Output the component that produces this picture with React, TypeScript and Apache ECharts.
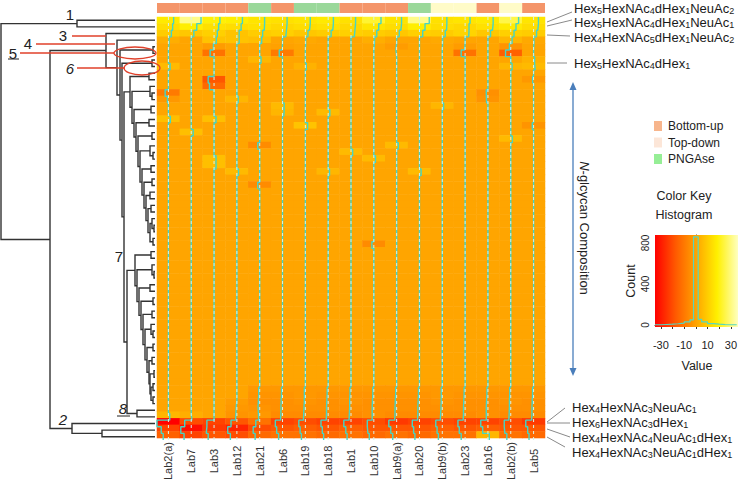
import React, { useEffect, useRef } from 'react';
import * as echarts from 'echarts';

// ---------- data ----------
const LABS = ['Lab2(a)', 'Lab7', 'Lab3', 'Lab12', 'Lab21', 'Lab6', 'Lab19', 'Lab18', 'Lab1', 'Lab10', 'Lab9(a)', 'Lab20', 'Lab9(b)', 'Lab23', 'Lab16', 'Lab2(b)', 'Lab5'];
const METHODS = ['Bottom-up', 'Top-down', 'PNGAse'];
const LAB_METHOD = ['Bottom-up', 'Bottom-up', 'Bottom-up', 'Bottom-up', 'PNGAse', 'Bottom-up', 'PNGAse', 'PNGAse', 'Bottom-up', 'Bottom-up', 'Bottom-up', 'PNGAse', 'Top-down', 'Top-down', 'Bottom-up', 'Top-down', 'Bottom-up'];

const COLOR_MIN = -35;
const COLOR_MAX = 35;

// rows = N-glycan compositions (top to bottom), columns = LABS
const HEAT: number[][] = [
  [16, 30, 18, 17, 15, 14, 15, 16, 14, 22, 15, 30, 14, 15, 16, 24, 15],
  [13, 17, 14, 13, 14, 12, 13, 14, 12, 15, 13, 17, 13, 12, 14, 16, 13],
  [9, 8, 10, 7, 9, 10, 8, 9, 10, 9, 8, 10, 9, 11, 8, 10, 9],
  [2, 0, 7, 7, 6, 0, 1, 0, 0, 2, 0, 0, 1, 0, 0, 4, 1],
  [0, 0, -2, 0, 0, -1, 0, 0, 0, 0, -2, 0, 0, -2, 0, -4, 0],
  [0, 0, -12, 0, 0, -10, 0, 0, 0, 0, 0, 0, 0, -12, 0, -16, 0],
  [0, 0, 0, 0, 4, 0, 0, 0, 0, 0, 0, 0, 0, 0, 0, 0, 3],
  [5, 0, 0, 0, 0, 0, 3, 0, 0, 0, 0, 0, 0, 0, 0, 4, 5],
  [0, 0, 0, 0, 0, 0, 0, 0, 0, 0, 0, 0, 0, 0, 0, 0, 0],
  [0, 0, -18, 0, 0, 0, 0, 0, 0, 0, 0, 0, 0, 0, 0, 0, -3],
  [0, 0, -14, 0, 0, 0, 0, 0, 0, 0, 0, 0, 0, 0, 0, 0, 0],
  [-10, 0, 0, 0, 0, 0, 0, 0, 0, 0, 0, 0, 0, 0, -5, 0, 0],
  [-3, 0, 0, 4, 0, 0, 0, 0, 0, 0, 0, 0, 0, 0, -4, 0, 0],
  [0, 0, 0, 0, 0, 5, 0, 0, 0, 0, 0, 0, 4, 0, 0, 0, 0],
  [0, 0, 0, 0, 0, 4, 0, 5, 0, 0, 0, 0, 0, 0, 0, 0, 0],
  [6, 0, 6, 0, 0, 0, 0, 0, 0, 0, 0, 0, 0, 0, 0, 0, 0],
  [0, 0, 0, 0, 0, 0, 7, 0, 0, 0, 0, 0, 0, 0, 0, 0, -4],
  [0, 6, 0, 0, 0, 0, 0, 0, 0, 0, 0, 0, 0, 0, 0, 0, 0],
  [0, 0, 0, 0, 0, 0, 0, 0, 0, 0, 0, 0, 0, 0, 0, 5, 0],
  [0, 0, 0, 0, -6, 0, 0, 0, 0, 0, 5, 0, 0, 0, 0, 0, 0],
  [0, 0, 0, 0, 0, 0, 0, 0, 5, 0, 0, 0, 0, 0, 0, 0, 0],
  [0, 0, 6, 0, 0, 0, 0, 0, 0, 5, 0, 0, 0, 0, 0, 0, 0],
  [0, 0, 6, 0, 0, 0, 0, 0, 0, 0, 0, 0, 0, 0, 0, 0, 0],
  [0, 0, 0, 5, 0, 0, 0, 4, 0, 0, 0, 5, 0, 0, 0, 0, 0],
  [0, 0, 0, 0, 0, 0, 0, 0, 0, 0, 0, 0, 0, 0, 0, 0, 0],
  [0, 0, 0, 0, -6, 0, 0, 0, 0, 0, 0, 0, 0, 0, 0, 0, 0],
  [0, 0, 0, 0, 0, 0, 0, 0, 0, 0, 0, 0, 0, 0, 0, 0, 0],
  [0, 0, 0, 0, 0, 0, 0, 0, 0, 0, 0, 0, 0, 0, 0, 0, 0],
  [0, 0, 0, 0, 0, 0, 0, 0, 0, 0, 0, 0, 0, 0, 0, 0, 0],
  [0, 0, 0, 0, 0, 0, 0, 0, 0, 0, 0, 0, 0, 0, 0, 0, 0],
  [0, 0, 0, 0, 0, 0, 0, 0, 0, 0, 0, 0, 0, 0, 0, 0, 0],
  [0, 0, 0, 0, 0, 0, 0, 0, 0, 0, 0, 0, 0, 0, 0, 0, 0],
  [0, 0, 0, 0, 0, 0, 0, 0, 0, 0, 0, 0, 0, 0, 0, 0, 0],
  [0, 0, 0, 0, 0, 0, 0, 0, 0, 0, 0, 0, 0, 0, 0, 0, 0],
  [0, 0, 0, 0, 0, 0, 0, 0, 0, -6, 0, 0, 0, 0, 0, 0, 0],
  [0, 0, 0, 0, 0, 0, 0, 0, 0, 0, 0, 0, 0, 0, 0, 0, 0],
  [0, 0, 0, 0, 0, 0, 0, 0, 0, 0, 0, 0, 0, 0, 0, 0, 0],
  [0, 0, 0, 0, 0, 0, 0, 0, 0, 0, 0, 0, 0, 0, 0, 0, 0],
  [0, 0, 0, 0, 0, 0, 0, 0, 0, 0, 0, 0, 0, 0, 0, 0, 0],
  [0, 0, 0, 0, 0, 0, 0, 0, 0, 0, 0, 0, 0, 0, 0, 0, 0],
  [0, 0, 0, 0, 0, 0, 0, 0, 0, 0, 0, 0, 0, 0, 0, 0, 0],
  [0, 0, 0, 0, 0, 0, 0, 0, 0, 0, 0, 0, 0, 0, 0, 0, 0],
  [0, 0, 0, 0, 0, 0, 0, 0, 0, 0, 0, 0, 0, 0, 0, 0, 0],
  [0, 0, 0, 0, 0, 0, 0, 0, 0, 0, 0, 0, 0, 0, 0, 0, 0],
  [0, 0, 0, 0, 0, 0, 0, 0, 0, 0, 0, 0, 0, 0, 0, 0, 0],
  [0, 0, 0, 0, 0, 0, 0, 0, 0, 0, 0, 0, 0, 0, 0, 0, 0],
  [0, 0, 0, 0, 0, 0, 0, 0, 0, 0, 0, 0, 0, 0, 0, 0, 0],
  [0, 0, 0, 0, 0, 0, 0, 0, 0, 0, 0, 0, 0, 0, 0, 0, 0],
  [0, 0, 0, 0, 0, 0, 0, 0, 0, 0, 0, 0, 0, 0, 0, 0, 0],
  [0, 0, 0, 0, 0, 0, 0, 0, 0, 0, 0, 0, 0, 0, 0, 0, 0],
  [0, 0, 0, 0, 0, 0, 0, 0, 0, 0, 0, 0, 0, 0, 0, 0, 0],
  [0, 0, 0, 0, 0, 0, 0, 0, 0, 0, 0, 0, 0, 0, 0, 0, 0],
  [0, 0, 0, 0, 0, 0, 0, 0, 0, 0, 0, 0, 0, 0, 0, 0, 0],
  [0, 0, 0, 0, 0, 0, 0, 0, 0, 0, 0, 0, 0, 0, 0, 0, 0],
  [0, 0, 0, 0, 0, 0, 0, 0, 0, 0, 0, 0, 0, 0, 0, 0, 0],
  [0, 0, 0, 0, 0, 0, 0, 0, 0, 0, 0, 0, 0, 0, 0, 0, 0],
  [0, 0, 0, 0, -3, -3, -3, -3, -3, -3, -3, -3, -3, -3, -3, -3, -3],
  [0, 0, 0, 0, -4, -4, -3, -4, -4, -4, -4, -4, -3, -4, -4, -4, -4],
  [0, 0, 0, -2, -5, -5, -4, -5, -4, -5, -5, -5, -4, -5, -5, -4, -5],
  [0, 0, 0, -3, -4, -5, -5, -5, -5, -5, -5, -5, -5, -5, -5, -5, -5],
  [4, 2, 0, -4, -3, -6, -6, -6, -6, -5, -6, -6, -6, -6, -5, -6, -6],
  [-35, -20, -22, -18, -12, -22, -20, -22, -22, -20, -24, -22, -20, -22, -22, -20, -24],
  [-22, -32, -24, -28, -20, -18, -16, -18, -16, -18, -18, -18, -16, -18, -16, -18, -18],
  [-16, -22, -18, -20, -14, -12, -12, -14, -12, -14, -12, -14, -12, -12, 4, -12, -14],
];

// dendrogram: node = [height, left, right], leaf = row index
const CHAIN_A_STEPS: [number, any][] = [[25, [6, 8, 9]], [23, [5, 10, [3, 11, 12]]], [21, [4, 13, 14]], [19, [6, 15, 16]], [17, [3, 17, 18]], [15, [5, 19, [2, 20, 21]]], [13, [4, 22, 23]], [11, [3, 24, 25]], [9, [5, 26, 27]], [7, [4, 28, 29]]];
const CHAIN_A_TAIL = [5, [3, 30, [1, 31, 32]], [2, 33, 34]];
const CHAIN_B_STEPS: [number, any][] = [[20, [4, 35, 36]], [18, [3, 37, [1, 38, 39]]], [16, [5, 40, 41]], [14, [2, 42, 43]], [12, [3, 44, 45]], [10, [4, 46, [2, 47, 48]]], [8, [2, 49, 50]], [6, [3, 51, 52]], [5, [1, 53, 54]]];
const CHAIN_B_TAIL = [4, [2, 55, 56], [2, 57, 58]];
const CLUSTER_1 = [78, 0, 1];
const CLUSTER_2 = [83, 61, [53, 62, 63]];
const CLUSTER_5 = [2, 4, 5];
const CLUSTER_6 = [3, 6, 7];
const CLUSTER_8 = [18, 59, 60];
const ROOT_HEIGHT = 154;
const NODE_HEIGHTS = { n3: 49, n4: 38, n5: 35, n6: 33, n7: 31, n78: 28, a: 105 };

const HIST_EDGES = [-35, -30, -25, -20, -15, -10, -5, -2, 2, 5, 10, 15, 20, 25, 30, 35];
const HIST_COUNTS = [2, 5, 8, 12, 18, 30, 50, 860, 55, 30, 14, 8, 4, 2, 1];
const KEY_TICKS = [-30, -20, -10, 0, 10, 20, 30];
const KEY_LABELS = [-30, -10, 10, 30];
const COUNT_TICKS = [0, 200, 400, 600, 800];
const COUNT_LABELS = [0, 400, 800];

const TOP_GLYCANS = ['Hex_5HexNAc_4dHex_1NeuAc_2', 'Hex_5HexNAc_4dHex_1NeuAc_1', 'Hex_4HexNAc_5dHex_1NeuAc_2', 'Hex_5HexNAc_4dHex_1'];
const BOTTOM_GLYCANS = ['Hex_4HexNAc_3NeuAc_1', 'Hex_6HexNAc_3dHex_1', 'Hex_4HexNAc_4NeuAc_1dHex_1', 'Hex_4HexNAc_3NeuAc_1dHex_1'];

// ---------- styling ----------
const FONT = '"Liberation Sans", Arial, sans-serif';
const HEAT_COLORS = ['#FF0000', '#FF5A00', '#FFA500', '#FFF000', '#FFFFC0'];
const METHOD_BAR_COLORS: Record<string, string> = { 'Bottom-up': '#F4956A', 'Top-down': '#FFFBC8', 'PNGAse': '#9AD89A' };
const METHOD_LEGEND_COLORS: Record<string, string> = { 'Bottom-up': '#F7B58C', 'Top-down': '#FCE6D8', 'PNGAse': '#96EE96' };
const HM = { left: 157, top: 17, width: 388, height: 423 };

function buildTree(): any {
  const chainA = CHAIN_A_STEPS.reduceRight((acc: any, [h, g]) => [h, g, acc], CHAIN_A_TAIL);
  const chainB = CHAIN_B_STEPS.reduceRight((acc: any, [h, g]) => [h, g, acc], CHAIN_B_TAIL);
  const n78 = [NODE_HEIGHTS.n78, chainB, CLUSTER_8];
  const n7 = [NODE_HEIGHTS.n7, chainA, n78];
  const n6 = [NODE_HEIGHTS.n6, CLUSTER_6, n7];
  const n5 = [NODE_HEIGHTS.n5, CLUSTER_5, n6];
  const n4 = [NODE_HEIGHTS.n4, 3, n5];
  const n3 = [NODE_HEIGHTS.n3, 2, n4];
  const a = [NODE_HEIGHTS.a, n3, CLUSTER_2];
  return [ROOT_HEIGHT, CLUSTER_1, a];
}

function layoutTree(node: any, segs: number[][]): { h: number; y: number } {
  if (typeof node === 'number') return { h: 0, y: node + 0.5 };
  const [h, l, r] = node;
  const A = layoutTree(l, segs);
  const B = layoutTree(r, segs);
  segs.push([A.h, A.y, h, A.y, h, B.y, B.h, B.y]);
  return { h, y: (A.y + B.y) / 2 };
}

const toRich = (s: string) =>
  ('{m|' + s.replace(/_(\d)/g, '}{s|$1}{m|') + '}').replace(/\{m\|\}/g, '');

const RICH = {
  m: { fontSize: 13, lineHeight: 12, fontFamily: FONT, fill: '#1a1a1a', color: '#1a1a1a' },
  s: { fontSize: 9, lineHeight: 12, padding: [6, 0, 0, 0], fontFamily: FONT, fill: '#1a1a1a', color: '#1a1a1a' },
};

export default function App() {
  const ref = useRef<HTMLDivElement>(null);
  useEffect(() => {
    if (!ref.current) return;
    const chart = echarts.init(ref.current, undefined, { renderer: 'svg' });
    const nRows = HEAT.length;
    const nCols = LABS.length;
    const rowIds = HEAT.map((_, i) => String(i));

    const heatData: number[][] = [];
    HEAT.forEach((row, r) => row.forEach((v, c) => heatData.push([c, r, v])));

    const segs: number[][] = [];
    layoutTree(buildTree(), segs);

    const span = COLOR_MAX - COLOR_MIN;
    const traceSeries: any[] = [];
    const vlineSeries: any[] = [];
    for (let c = 0; c < nCols; c++) {
      const pts: number[][] = [];
      HEAT.forEach((row, r) => {
        const x = c + (row[c] - COLOR_MIN) / span;
        pts.push([x, r], [x, r + 1]);
      });
      traceSeries.push({
        type: 'line', xAxisIndex: 1, yAxisIndex: 1, data: pts, showSymbol: false, silent: true,
        lineStyle: { color: '#45D5C5', width: 1.4 }, z: 5,
      });
      vlineSeries.push({
        type: 'line', xAxisIndex: 1, yAxisIndex: 1, data: [[c + 0.5, 0], [c + 0.5, nRows]], showSymbol: false, silent: true,
        lineStyle: { color: '#D6F2EA', width: 1, type: [3, 3] }, z: 6,
      });
    }

    const histPts: number[][] = [];
    HIST_COUNTS.forEach((cnt, i) => { histPts.push([HIST_EDGES[i], cnt], [HIST_EDGES[i + 1], cnt]); });

    const txt = (text: string, x: number, y: number, extra: any = {}) => ({
      type: 'text', x, y, z: 100,
      style: { text, fontSize: 15, fontFamily: FONT, fill: '#222', align: 'center', verticalAlign: 'middle', ...extra },
    });
    const line = (x1: number, y1: number, x2: number, y2: number, stroke = '#E0402A', lineWidth = 1.3) => ({
      type: 'line', z: 100, shape: { x1, y1, x2, y2 }, style: { stroke, lineWidth },
    });
    const ellipse = (cx: number, cy: number, rx: number, ry: number) => ({
      type: 'ellipse', z: 100, shape: { cx, cy, rx, ry }, style: { fill: 'none', stroke: '#E0402A', lineWidth: 1.3 },
    });
    const glycan = (s: string, x: number, y: number) => ({
      type: 'text', x, y, z: 100,
      style: { text: toRich(s), rich: RICH, align: 'left', verticalAlign: 'middle' },
    });

    const topLabelY = [8, 22, 37, 63];
    const topLineFrom = [22, 26, 35, 63];
    const topLineTo: number[][] = [[572, 12], [572, 20], [570, 36], [567, 63]];
    const botLabelY = [407, 422, 437, 452];
    const botLineFrom = [422, 423, 429, 437];
    const botLineTo: number[][] = [[565, 408], [570, 423], [570, 437], [565, 447]];

    const graphics: any[] = [];
    TOP_GLYCANS.forEach((g, i) => {
      graphics.push(glycan(g, 574, topLabelY[i]));
      graphics.push(line(547, topLineFrom[i], topLineTo[i][0], topLineTo[i][1], '#8a8a8a', 1));
    });
    BOTTOM_GLYCANS.forEach((g, i) => {
      graphics.push(glycan(g, 572, botLabelY[i]));
      graphics.push(line(547, botLineFrom[i], botLineTo[i][0], botLineTo[i][1], '#8a8a8a', 1));
    });
    // dendrogram annotations
    graphics.push(
      txt('1', 70, 14),
      txt('3', 63, 35), line(72, 36, 106, 36),
      txt('4', 28, 43), line(36, 44, 115, 44),
      txt('5', 13, 53), line(20, 53, 114, 53), line(8, 59, 19, 59, '#222', 1), ellipse(135, 53, 21, 6),
      txt('6', 70, 68, { fontStyle: 'italic' }), line(77, 68, 125, 68), ellipse(142, 68, 18, 7),
      txt('7', 119, 256),
      txt('8', 123, 408, { fontStyle: 'italic' }), line(117, 416, 130, 416, '#222', 1),
      txt('2', 63, 419, { fontStyle: 'italic' }),
    );
    // vertical axis title + arrow
    graphics.push(
      {
        type: 'text', x: 584, y: 228, rotation: -Math.PI / 2, z: 100,
        style: {
          text: '{i|N}{r|-glcycan Composition}', align: 'center', verticalAlign: 'middle',
          rich: {
            i: { fontStyle: 'italic', fontSize: 13, fontFamily: FONT, fill: '#222' },
            r: { fontSize: 13, fontFamily: FONT, fill: '#222' },
          },
        },
      },
      line(573, 86, 573, 372, '#4A7EBB', 1.3),
      { type: 'polygon', z: 100, shape: { points: [[573, 82], [569.5, 90], [576.5, 90]] }, style: { fill: '#4A7EBB' } },
      { type: 'polygon', z: 100, shape: { points: [[573, 376], [569.5, 368], [576.5, 368]] }, style: { fill: '#4A7EBB' } },
    );
    // method legend
    METHODS.forEach((m, i) => {
      const y = 126 + i * 16.5;
      graphics.push(
        { type: 'rect', z: 100, shape: { x: 654, y: y - 5, width: 8, height: 10 }, style: { fill: METHOD_LEGEND_COLORS[m] } },
        { type: 'text', z: 100, x: 668, y, style: { text: m, fontSize: 12, fontFamily: FONT, fill: '#222', align: 'left', verticalAlign: 'middle' } },
      );
    });
    // color key
    graphics.push(
      txt('Color Key', 684, 196, { fontSize: 12.5 }),
      txt('Histogram', 684, 215, { fontSize: 12.5 }),
      {
        type: 'rect', z: 1, shape: { x: 655, y: 235, width: 83, height: 92 },
        style: {
          fill: new echarts.graphic.LinearGradient(0, 0, 1, 0, HEAT_COLORS.map((c, i) => ({ offset: i / (HEAT_COLORS.length - 1), color: c }))),
        },
      },
      { type: 'text', x: 631, y: 281, rotation: Math.PI / 2, z: 100, style: { text: 'Count', fontSize: 12.5, fontFamily: FONT, fill: '#222', align: 'center', verticalAlign: 'middle' } },
      txt('Value', 697, 366, { fontSize: 12.5 }),
    );

    chart.setOption({
      animation: false,
      textStyle: { fontFamily: FONT },
      grid: [
        { left: HM.left, top: HM.top, width: HM.width, height: HM.height },
        { left: HM.left, top: HM.top, width: HM.width, height: HM.height },
        { left: HM.left, top: 3, width: HM.width, height: 10 },
        { left: 1, top: HM.top, width: 154, height: HM.height },
        { left: 655, top: 235, width: 83, height: 90 },
      ],
      xAxis: [
        {
          gridIndex: 0, type: 'category', data: LABS, axisLine: { show: false }, axisTick: { show: false },
          axisLabel: { rotate: 90, align: 'center', margin: 23, fontSize: 11, color: '#333', fontFamily: FONT, interval: 0, padding: [12, 0, 0, 0] },
        },
        { gridIndex: 1, type: 'value', min: 0, max: nCols, show: false },
        { gridIndex: 2, type: 'category', data: LABS, show: false },
        { gridIndex: 3, type: 'value', min: 0, max: ROOT_HEIGHT, inverse: true, show: false },
        {
          gridIndex: 4, type: 'value', min: COLOR_MIN, max: COLOR_MAX, splitLine: { show: false },
          axisLine: { show: true, lineStyle: { color: '#333' } },
          axisTick: { show: true, customValues: KEY_TICKS, length: 4, lineStyle: { color: '#333' } },
          axisLabel: { customValues: KEY_LABELS, fontSize: 11, color: '#222', margin: 14 },
        },
      ],
      yAxis: [
        { gridIndex: 0, type: 'category', data: rowIds, inverse: true, show: false },
        { gridIndex: 1, type: 'value', min: 0, max: nRows, inverse: true, show: false },
        { gridIndex: 2, type: 'value', min: 0, max: 1, show: false },
        { gridIndex: 3, type: 'value', min: 0, max: nRows, inverse: true, show: false },
        {
          gridIndex: 4, type: 'value', min: 0, max: 878, splitLine: { show: false },
          axisLine: { show: true, lineStyle: { color: '#333' } },
          axisTick: { show: true, customValues: COUNT_TICKS, length: 4, lineStyle: { color: '#333' } },
          axisLabel: { customValues: COUNT_LABELS, fontSize: 10, color: '#222', rotate: 90, margin: 5 },
        },
      ],
      visualMap: {
        show: false, type: 'continuous', min: COLOR_MIN, max: COLOR_MAX, dimension: 2, seriesIndex: 0,
        inRange: { color: HEAT_COLORS },
      },
      series: [
        { type: 'heatmap', xAxisIndex: 0, yAxisIndex: 0, data: heatData, silent: true, progressive: 0 },
        {
          type: 'bar', xAxisIndex: 2, yAxisIndex: 2, barCategoryGap: '0%', silent: true,
          data: LAB_METHOD.map((m) => ({ value: 1, itemStyle: { color: METHOD_BAR_COLORS[m] } })),
        },
        {
          type: 'custom', xAxisIndex: 3, yAxisIndex: 3, data: segs, silent: true, clip: false,
          renderItem: (_p: any, api: any) => {
            const pts = [0, 2, 4, 6].map((k) => api.coord([api.value(k), api.value(k + 1)]));
            return { type: 'polyline', shape: { points: pts }, style: { stroke: '#333', lineWidth: 1.4, fill: null } };
          },
        },
        {
          type: 'line', xAxisIndex: 4, yAxisIndex: 4, data: histPts, showSymbol: false, silent: true,
          lineStyle: { color: '#55D8C0', width: 1.2 }, z: 5,
        },
        ...traceSeries,
        ...vlineSeries,
      ],
      graphic: graphics,
    });
    return () => chart.dispose();
  }, []);
  return <div ref={ref} style={{ position: 'fixed', left: 0, top: 0, width: 740, height: 483, background: '#fff' }} />;
}
